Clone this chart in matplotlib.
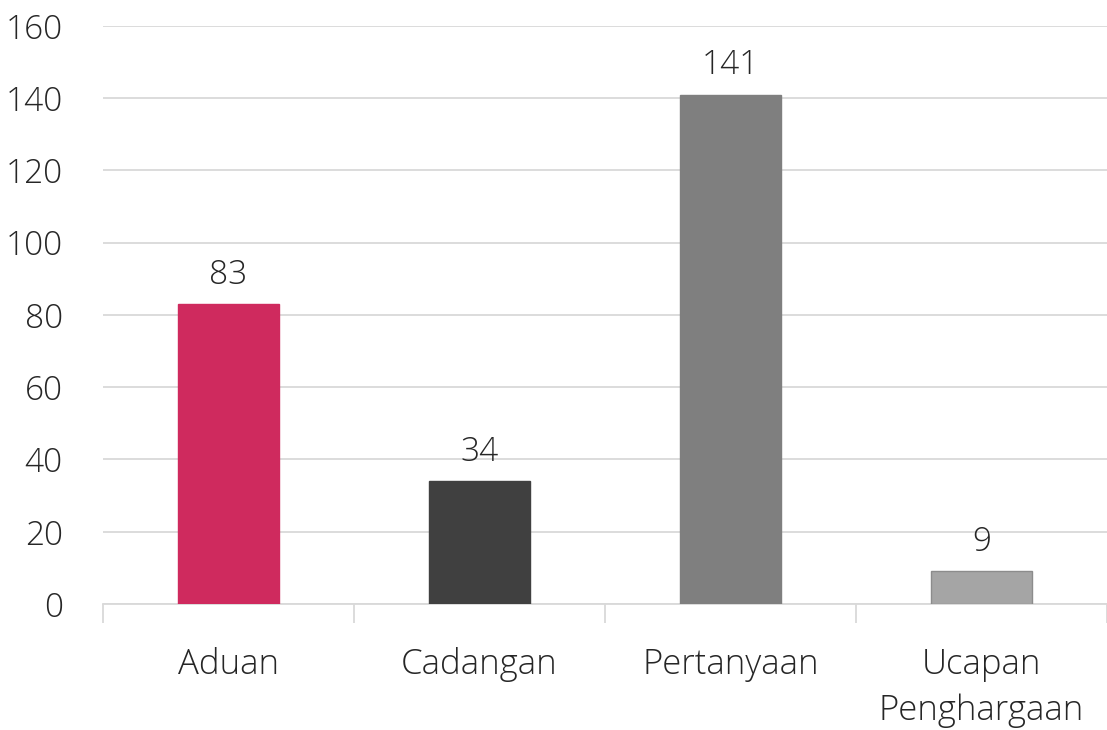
import matplotlib.pyplot as plt
import numpy as np

categories = ["Aduan", "Cadangan", "Pertanyaan", "Ucapan\nPenghargaan"]
values = [83, 34, 141, 9]
bar_colors = ["#CF2A5E", "#404040", "#7F7F7F", "#A5A5A5"]
edge_colors = ["#CF2A5E", "#404040", "#7F7F7F", "#8C8C8C"]

plt.rcParams['font.family'] = ['Open Sans', 'DejaVu Sans']

fig = plt.figure(figsize=(11.07, 7.3), dpi=100)
ax = fig.add_axes([0.093, 0.1726, 0.907, 0.7918])

x = np.arange(len(categories))
bars = ax.bar(x, values, width=0.405, color=bar_colors, edgecolor=edge_colors, linewidth=1, zorder=3)

for b, v in zip(bars, values):
    ax.text(b.get_x() + b.get_width() / 2, v + 3.5, str(v), ha='center', va='bottom',
            fontsize=24, fontweight='light', color='#262626')

ax.set_ylim(0, 160)
ax.set_xlim(-0.5, 3.5)
ax.set_yticks(range(0, 161, 20))
ax.yaxis.grid(True, color='#D9D9D9', linewidth=1.3, zorder=0)
ax.tick_params(axis='y', length=0, labelsize=24, labelcolor='#262626', pad=29)
for lbl in ax.get_yticklabels():
    lbl.set_fontweight('light')

ax.set_xticks(x)
ax.set_xticklabels(categories, fontsize=25, fontweight='light', color='#262626', linespacing=1.45)
ax.tick_params(axis='x', which='major', length=0, pad=31)
ax.set_xticks(np.arange(-0.5, 4, 1), minor=True)
ax.tick_params(axis='x', which='minor', length=14, color='#D9D9D9', width=1.3)

for s in ['top', 'right', 'left']:
    ax.spines[s].set_visible(False)
ax.spines['bottom'].set_color('#D9D9D9')
ax.spines['bottom'].set_linewidth(1.3)

fig.savefig("out.png", dpi=100)
